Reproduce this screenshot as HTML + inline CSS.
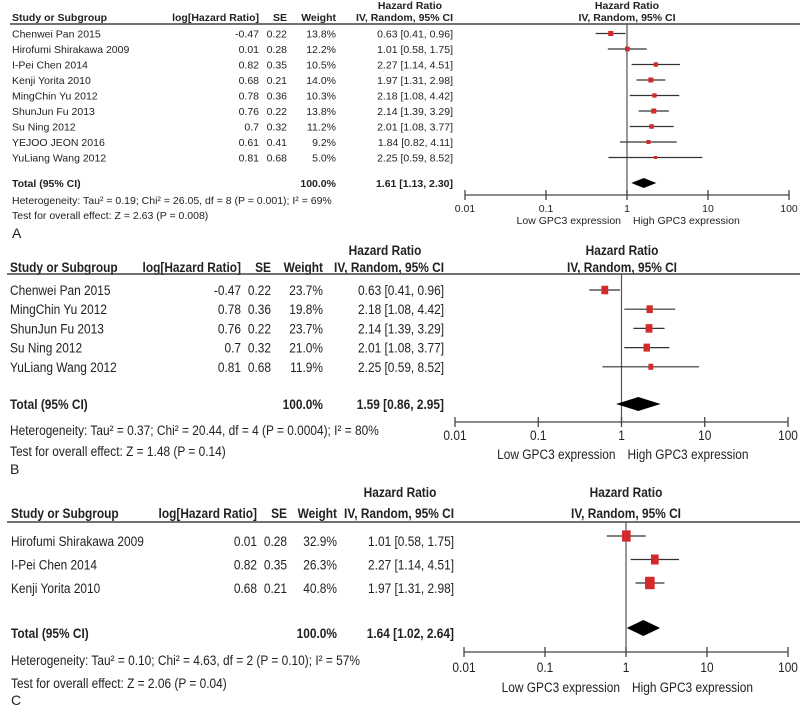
<!DOCTYPE html>
<html><head><meta charset="utf-8">
<style>
html,body{margin:0;padding:0;background:#fff;width:800px;height:714px;overflow:hidden}
svg{display:block}
text{font-family:"Liberation Sans",Arial,sans-serif;fill:#222}
</style></head>
<body>
<svg id="chart" width="800" height="714" viewBox="0 0 800 714" xmlns="http://www.w3.org/2000/svg"></svg>
<script>
// Panel A data
const studiesA = ["Chenwei Pan 2015","Hirofumi Shirakawa 2009","I-Pei Chen 2014","Kenji Yorita 2010","MingChin Yu 2012","ShunJun Fu 2013","Su Ning 2012","YEJOO JEON 2016","YuLiang Wang 2012"];
const logHRA = ["-0.47","0.01","0.82","0.68","0.78","0.76","0.7","0.61","0.81"];
const seA = ["0.22","0.28","0.35","0.21","0.36","0.22","0.32","0.41","0.68"];
const weightA = [13.8,12.2,10.5,14.0,10.3,13.8,11.2,9.2,5.0];
const hrA = [0.63,1.01,2.27,1.97,2.18,2.14,2.01,1.84,2.25];
const loA = [0.41,0.58,1.14,1.31,1.08,1.39,1.08,0.82,0.59];
const hiA = [0.96,1.75,4.51,2.98,4.42,3.29,3.77,4.11,8.52];
const totalA = [1.61,1.13,2.30];
// Panel B data
const studiesB = ["Chenwei Pan 2015","MingChin Yu 2012","ShunJun Fu 2013","Su Ning 2012","YuLiang Wang 2012"];
const logHRB = ["-0.47","0.78","0.76","0.7","0.81"];
const seB = ["0.22","0.36","0.22","0.32","0.68"];
const weightB = [23.7,19.8,23.7,21.0,11.9];
const hrB = [0.63,2.18,2.14,2.01,2.25];
const loB = [0.41,1.08,1.39,1.08,0.59];
const hiB = [0.96,4.42,3.29,3.77,8.52];
const totalB = [1.59,0.86,2.95];
// Panel C data
const studiesC = ["Hirofumi Shirakawa 2009","I-Pei Chen 2014","Kenji Yorita 2010"];
const logHRC = ["0.01","0.82","0.68"];
const seC = ["0.28","0.35","0.21"];
const weightC = [32.9,26.3,40.8];
const hrC = [1.01,2.27,1.97];
const loC = [0.58,1.14,1.31];
const hiC = [1.75,4.51,2.98];
const totalC = [1.64,1.02,2.64];
const tickLabels = ["0.01","0.1","1","10","100"];
const tickValues = [0.01,0.1,1,10,100];

const NS="http://www.w3.org/2000/svg";
const svg=document.getElementById('chart');
function mk(tag,attrs,parent){const e=document.createElementNS(NS,tag);for(const k in attrs)e.setAttribute(k,attrs[k]);(parent||svg).appendChild(e);return e;}
function txt(x,y,s,anchor,size,sx,bold,name){
  const t=mk('text',{transform:`translate(${x},${y}) scale(${sx},1)`,'text-anchor':anchor,'font-size':size,'font-weight':bold?'bold':'normal'});
  t.textContent=s;
  
  
  return t;
}
function fmt(v){return v.toFixed(2);}

function panel(P){
  const sx=P.sx, fs=P.fs;
  const xs=v=>P.x001+(Math.log10(v)+2)*(P.x100-P.x001)/4;
  txt(P.hrHdrX,P.h1,"Hazard Ratio","middle",fs,sx,true,'hazard-ratio-header');
  txt(P.plotHdrX,P.h1,"Hazard Ratio","middle",fs,sx,true,'plot-hazard-ratio-header');
  txt(P.plotHdrX,P.h2,"IV, Random, 95% CI","middle",fs,sx,true,'plot-method-header');
  txt(P.cStudy,P.h2,"Study or Subgroup","start",fs,sx,true,'study-column-header');
  txt(P.cLog,P.h2,"log[Hazard Ratio]","end",fs,sx,true,'loghr-column-header');
  txt(P.cSE,P.h2,"SE","end",fs,sx,true,'se-column-header');
  txt(P.cW,P.h2,"Weight","end",fs,sx,true,'weight-column-header');
  txt(P.cCI,P.h2,"IV, Random, 95% CI","end",fs,sx,true,'ci-column-header');
  let l=mk('line',{x1:P.lineX0,x2:800,y1:P.lineY,y2:P.lineY,stroke:'#444','stroke-width':1.5});
  
  
  l=mk('line',{x1:xs(1),x2:xs(1),y1:P.lineY,y2:P.axisY,stroke:'#555','stroke-width':1.2});
  
  
  P.studies.forEach((s,i)=>{
    const y=P.row0+i*P.rowH;
    txt(P.cStudy,y+P.base,s,"start",fs,sx,false,'study-name');
    txt(P.cLog,y+P.base,P.logHR[i],"end",fs,sx,false,'loghr-value');
    txt(P.cSE,y+P.base,P.se[i],"end",fs,sx,false,'se-value');
    txt(P.cW,y+P.base,P.weight[i].toFixed(1)+"%","end",fs,sx,false,'weight-value');
    txt(P.cCI,y+P.base,fmt(P.hr[i])+" ["+fmt(P.lo[i])+", "+fmt(P.hi[i])+"]","end",fs,sx,false,'ci-value');
    const ci=mk('line',{x1:xs(P.lo[i]),x2:xs(P.hi[i]),y1:y,y2:y,stroke:'#333','stroke-width':1.2});
    
    
    const w=Math.sqrt(P.weight[i])*P.k, h=w*P.aspect;
    const sq=mk('rect',{x:xs(P.hr[i])-w/2,y:y-h/2,width:w,height:h,fill:'#d42a2a'});
    
    
  });
  const ty=P.totY;
  txt(P.cStudy,ty+P.base,"Total (95% CI)","start",fs,sx,true,'total-label');
  txt(P.cW,ty+P.base,"100.0%","end",fs,sx,true,'total-weight');
  txt(P.cCI,ty+P.base,fmt(P.total[0])+" ["+fmt(P.total[1])+", "+fmt(P.total[2])+"]","end",fs,sx,true,'total-ci');
  const d=mk('polygon',{points:`${xs(P.total[1])},${ty} ${xs(P.total[0])},${ty-P.dh} ${xs(P.total[2])},${ty} ${xs(P.total[0])},${ty+P.dh}`,fill:'#000'});
  
  
  txt(P.cStudy,P.hetY,P.het,"start",fs,sx,false,'heterogeneity-text');
  txt(P.cStudy,P.testY,P.test,"start",fs,sx,false,'overall-effect-text');
  txt(P.cStudy,P.letterY,P.id,"start",14,1,false,'panel-label');
  const ax=mk('line',{x1:P.x001,x2:P.x100,y1:P.axisY,y2:P.axisY,stroke:'#444','stroke-width':1.3});
  
  
  tickValues.forEach((v,i)=>{
    const tk=mk('line',{x1:xs(v),x2:xs(v),y1:P.axisY-5,y2:P.axisY+5,stroke:'#444','stroke-width':1.3});
    
    
    txt(xs(v),P.axisY+P.tickOff,tickLabels[i],"middle",fs,sx,false,'x-tick-label');
  });
  txt(xs(1)-6,P.axisY+P.lblOff,"Low GPC3 expression","end",fs,sx,false,'favours-low-label');
  txt(xs(1)+6,P.axisY+P.lblOff,"High GPC3 expression","start",fs,sx,false,'favours-high-label');
}

panel({id:"A",sx:1,fs:10.5,x001:465,x100:789,h1:9,h2:21,lineX0:10,lineY:24,hrHdrX:410,plotHdrX:627,
 cStudy:12,cLog:259,cSE:287,cW:336,cCI:453,studies:studiesA,logHR:logHRA,se:seA,weight:weightA,hr:hrA,lo:loA,hi:hiA,
 row0:33.5,rowH:15.5,base:4,k:1.35,aspect:1,totY:183,total:totalA,dh:5,
 het:"Heterogeneity: Tau² = 0.19; Chi² = 26.05, df = 8 (P = 0.001); I² = 69%",test:"Test for overall effect: Z = 2.63 (P = 0.008)",
 hetY:204,testY:219,letterY:238,axisY:195,tickOff:17,lblOff:29});
panel({id:"B",sx:0.85,fs:14,x001:455,x100:788,h1:255,h2:272,lineX0:7,lineY:274,hrHdrX:385,plotHdrX:622,
 cStudy:10,cLog:241,cSE:271,cW:323,cCI:444,studies:studiesB,logHR:logHRB,se:seB,weight:weightB,hr:hrB,lo:loB,hi:hiB,
 row0:290,rowH:19.2,base:5,k:1.4,aspect:1.25,totY:404,total:totalB,dh:7,
 het:"Heterogeneity: Tau² = 0.37; Chi² = 20.44, df = 4 (P = 0.0004); I² = 80%",test:"Test for overall effect: Z = 1.48 (P = 0.14)",
 hetY:435,testY:456,letterY:474,axisY:422,tickOff:18,lblOff:37});
panel({id:"C",sx:0.85,fs:14,x001:464,x100:788,h1:497,h2:518,lineX0:7,lineY:522,hrHdrX:400,plotHdrX:626,
 cStudy:11,cLog:257,cSE:287,cW:337,cCI:454,studies:studiesC,logHR:logHRC,se:seC,weight:weightC,hr:hrC,lo:loC,hi:hiC,
 row0:536,rowH:23.5,base:10,k:1.5,aspect:1.3,totY:628,total:totalC,dh:8,
 het:"Heterogeneity: Tau² = 0.10; Chi² = 4.63, df = 2 (P = 0.10); I² = 57%",test:"Test for overall effect: Z = 2.06 (P = 0.04)",
 hetY:665,testY:688,letterY:705,axisY:652,tickOff:20,lblOff:40});
</script>
</body></html>
